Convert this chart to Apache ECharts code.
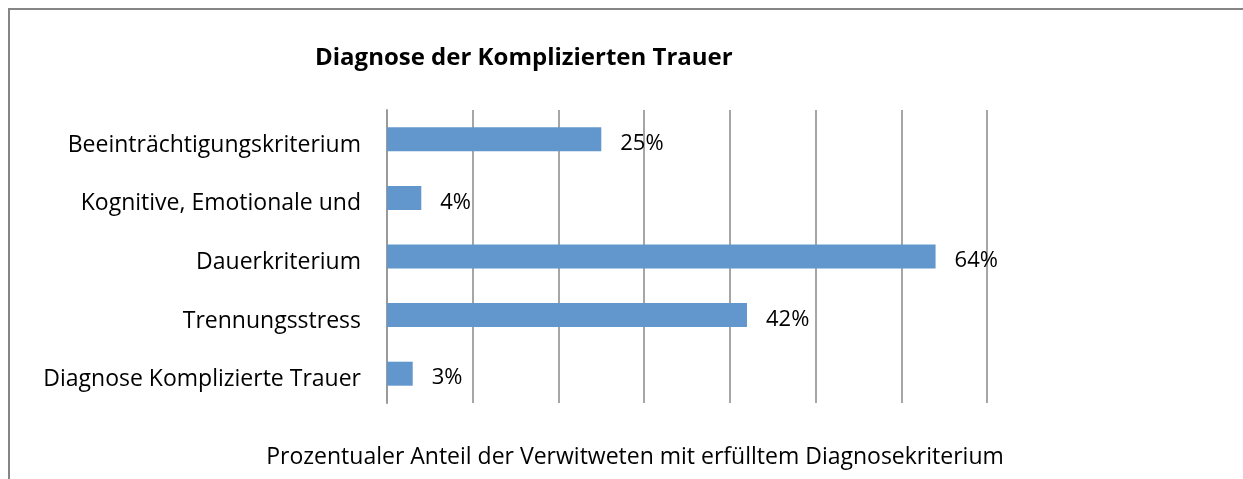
<!DOCTYPE html>
<html>
<head>
<meta charset="utf-8">
<script src="https://cdn.jsdelivr.net/npm/echarts@6/dist/echarts.min.js"></script>
<style>
  html, body { margin: 0; padding: 0; background: #fff; }
  #chart { width: 1243px; height: 479px; }
</style>
</head>
<body>
<div id="chart"></div>
<script>
const categories = [
  'Beeinträchtigungskriterium',
  'Kognitive, Emotionale und',
  'Dauerkriterium',
  'Trennungsstress',
  'Diagnose Komplizierte Trauer'
];
const percentages = [25, 4, 64, 42, 3];

const FONT = '"Open Sans", sans-serif';

const chart = echarts.init(document.getElementById('chart'));

chart.setOption({
  animation: false,
  title: {
    text: 'Diagnose der Komplizierten Trauer',
    left: 310,
    top: 41,
    textStyle: { fontFamily: FONT, fontSize: 24, fontWeight: 'bold', color: '#000' }
  },
  graphic: [{
    type: 'polyline',
    shape: { points: [[9, 479], [9, 9], [1243, 9]] },
    style: { stroke: '#858585', lineWidth: 2, fill: null }
  }],
  grid: { left: 387, right: 256, top: 110, bottom: 76 },
  xAxis: {
    type: 'value',
    min: 0,
    max: 70,
    interval: 10,
    name: 'Prozentualer Anteil der Verwitweten mit erfülltem Diagnosekriterium',
    nameLocation: 'middle',
    nameGap: 43,
    nameTextStyle: { fontFamily: FONT, fontSize: 23, color: '#000', padding: [0, 104, 0, 0] },
    axisLabel: { show: false },
    axisLine: { show: false },
    axisTick: { show: false },
    splitLine: { lineStyle: { color: '#a6a6a6', width: 2 } }
  },
  yAxis: {
    type: 'category',
    data: categories,
    inverse: true,
    axisLine: { lineStyle: { color: '#9a9a9a', width: 2 } },
    axisTick: { length: 6, lineStyle: { color: '#9a9a9a', width: 2 } },
    axisLabel: {
      margin: 26,
      formatter: v => '{l|' + v + '}',
      rich: {
        l: { fontFamily: FONT, fontSize: 23, color: '#000', lineHeight: 24, padding: [12, 0, 0, 0] }
      }
    }
  },
  series: [{
    type: 'bar',
    data: percentages,
    barWidth: 24,
    itemStyle: { color: '#6297CD' },
    label: {
      show: true,
      position: 'right',
      distance: 19,
      formatter: p => '{v|' + p.value + '%}',
      rich: {
        v: { fontFamily: FONT, fontSize: 22, color: '#000', lineHeight: 24, padding: [9, 0, 0, 0] }
      }
    }
  }]
});
</script>
</body>
</html>
